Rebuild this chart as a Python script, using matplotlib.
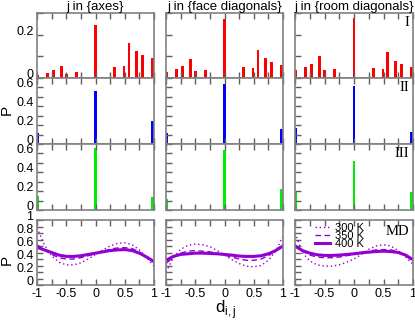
import matplotlib
matplotlib.use("Agg")
import matplotlib.pyplot as plt

plt.rcParams['font.family'] = ['Liberation Sans', 'DejaVu Sans']

# Spalten: j in {...}
columns = ["axes", "face diagonals", "room diagonals"]

# Zeile I (rot) - Positionen und Wahrscheinlichkeiten
d_I = [-0.985, -0.82, -0.72, -0.58, -0.5, -0.33, 0.0, 0.33, 0.49, 0.57, 0.70, 0.80, 0.97]
p_I_axes = [0.015, 0.023, 0.035, 0.057, 0.020, 0.026, 0.243, 0.050, 0.054, 0.160, 0.123, 0.106, 0.092]
p_I_face = [0.028, 0.043, 0.057, 0.089, 0.031, 0.038, 0.274, 0.049, 0.046, 0.131, 0.092, 0.074, 0.058]
p_I_room = [0.035, 0.052, 0.066, 0.103, 0.035, 0.042, 0.277, 0.046, 0.042, 0.118, 0.080, 0.065, 0.049]

# Zeilen II (blau) und III (gruen)
d_edge = [-0.98, 0.0, 0.975]
p_II_axes = [0.12, 0.56, 0.24]
p_II_face = [0.12, 0.64, 0.16]
p_II_room = [0.17, 0.61, 0.13]
p_III_axes = [0.145, 0.66, 0.14]
p_III_face = [0.12, 0.64, 0.22]
p_III_room = [0.19, 0.52, 0.19]

# Zeile MD - Verteilungen bei 300, 350, 400 K
d_md = [-1, -0.875, -0.75, -0.625, -0.5, -0.375, -0.25, -0.125, 0,
        0.125, 0.25, 0.375, 0.5, 0.625, 0.75, 0.875, 1]
md_axes_300 = [0.88, 0.62, 0.45, 0.35, 0.31, 0.31, 0.34, 0.40, 0.47, 0.54, 0.60, 0.64, 0.65, 0.62, 0.54, 0.42, 0.29]
md_axes_350 = [0.62, 0.54, 0.47, 0.42, 0.40, 0.40, 0.42, 0.45, 0.48, 0.52, 0.55, 0.57, 0.575, 0.56, 0.51, 0.43, 0.34]
md_axes_400 = [0.58, 0.54, 0.50, 0.46, 0.44, 0.44, 0.45, 0.47, 0.49, 0.51, 0.53, 0.54, 0.545, 0.53, 0.49, 0.43, 0.36]
md_face_300 = [0.20, 0.42, 0.55, 0.61, 0.63, 0.62, 0.59, 0.53, 0.46, 0.39, 0.33, 0.29, 0.28, 0.30, 0.38, 0.52, 0.75]
md_face_350 = [0.33, 0.43, 0.49, 0.52, 0.53, 0.52, 0.51, 0.49, 0.46, 0.43, 0.40, 0.38, 0.38, 0.40, 0.45, 0.53, 0.63]
md_face_400 = [0.38, 0.44, 0.47, 0.48, 0.49, 0.49, 0.485, 0.48, 0.47, 0.46, 0.445, 0.44, 0.44, 0.45, 0.48, 0.53, 0.60]
md_room_300 = [0.80, 0.50, 0.37, 0.31, 0.29, 0.29, 0.31, 0.35, 0.40, 0.47, 0.55, 0.60, 0.62, 0.60, 0.53, 0.43, 0.32]
md_room_350 = [0.62, 0.52, 0.46, 0.43, 0.42, 0.42, 0.43, 0.45, 0.47, 0.50, 0.52, 0.54, 0.545, 0.54, 0.51, 0.45, 0.37]
md_room_400 = [0.60, 0.53, 0.49, 0.465, 0.455, 0.455, 0.46, 0.47, 0.48, 0.495, 0.505, 0.515, 0.52, 0.515, 0.50, 0.46, 0.39]

rows_I = [p_I_axes, p_I_face, p_I_room]
rows_II = [p_II_axes, p_II_face, p_II_room]
rows_III = [p_III_axes, p_III_face, p_III_room]
rows_md = [(md_axes_300, md_axes_350, md_axes_400),
           (md_face_300, md_face_350, md_face_400),
           (md_room_300, md_room_350, md_room_400)]

W, H = 415, 324
fig = plt.figure(figsize=(W / 100, H / 100), dpi=100)

col_px = [(37, 154), (166, 283), (295, 413)]
row_px = [(13, 78), (78, 144), (144, 210), (220, 285)]

def make_ax(c, r):
    x0, x1 = col_px[c]
    y0, y1 = row_px[r]
    ax = fig.add_axes([x0 / W, 1 - y1 / H, (x1 - x0) / W, (y1 - y0) / H])
    for s in ax.spines.values():
        s.set_color("#808080")
        s.set_linewidth(1.2)
    ax.tick_params(direction="in", top=True, right=False, length=4, width=1,
                   color="#606060", labelsize=9, pad=2.5)
    ax.set_xlim(-1, 1)
    xt = [-1, -0.75, -0.5, -0.25, 0, 0.25, 0.5, 0.75, 1]
    if r == 3:
        ax.set_xticks(xt, ["-1", "", "-0.5", "", "0", "", "0.5", "", "1"])
    else:
        ax.set_xticks(xt, [""] * len(xt))
    return ax

def set_y(ax, ticks, labels, show):
    ax.set_yticks(ticks, labels if show else [""] * len(ticks))
    for lab in ax.get_yticklabels():
        lab.set_verticalalignment("baseline")

serif = ["Liberation Serif", "DejaVu Serif"]

for c in range(3):
    # Zeile I
    ax = make_ax(c, 0)
    ax.bar(d_I, rows_I[c], width=0.045, color="red", linewidth=0)
    ax.set_ylim(0, 0.3)
    set_y(ax, [0, 0.1, 0.2, 0.3], ["0", "", "0.2", ""], c == 0)
    ax.set_title("j in {" + columns[c] + "}", fontsize=9.5, pad=1.5)
    if c == 2:
        ax.text(0.97, 0.95, "I", transform=ax.transAxes, ha="right", va="top",
                fontsize=10.5, family=serif)

    # Zeile II und III
    for r, vals, col, lab in [(1, rows_II[c], "blue", "II"), (2, rows_III[c], "#00ee00", "III")]:
        ax = make_ax(c, r)
        ax.bar(d_edge, vals, width=0.04, color=col, linewidth=0)
        ax.set_ylim(0, 0.7)
        set_y(ax, [0, 0.1, 0.2, 0.3, 0.4, 0.5, 0.6, 0.7],
              ["0", "", "0.2", "", "0.4", "", "0.6", ""], c == 0)
        if c == 2:
            ax.text(0.97, 0.95, lab, transform=ax.transAxes, ha="right", va="top",
                    fontsize=10.5, family=serif)

    # Zeile MD
    ax = make_ax(c, 3)
    t300, t350, t400 = rows_md[c]
    ax.plot(d_md, t300, color="#9400d3", lw=1.0, ls=(0, (1, 2)), label="300 K")
    ax.plot(d_md, t350, color="#9400d3", lw=1.0, ls=(0, (4, 2.5)), label="350 K")
    ax.plot(d_md, t400, color="#9400d3", lw=2.2, label="400 K")
    ax.set_ylim(0, 1)
    set_y(ax, [0, 0.1, 0.2, 0.3, 0.4, 0.5, 0.6, 0.7, 0.8, 0.9, 1],
          ["0", "", "0.2", "", "0.4", "", "0.6", "", "0.8", "", "1"], c == 0)
    if c == 2:
        ax.legend(loc="upper left", bbox_to_anchor=(0.12, 1.04), frameon=False,
                  fontsize=8, labelspacing=-0.2, handlelength=1.4,
                  handletextpad=0.4, borderpad=0)
        ax.text(0.97, 0.93, "MD", transform=ax.transAxes, ha="right", va="top",
                fontsize=10.5, family=serif)

fig.text(7 / W, 1 - 110 / H, "P", rotation=90, fontsize=11, ha="center", va="center")
fig.text(7 / W, 1 - 260 / H, "P", rotation=90, fontsize=11, ha="center", va="center")
fig.text(226 / W, 1 - 310 / H, r"d$_{\mathregular{i,j}}$", fontsize=12, ha="center", va="center")

fig.savefig("out.png", dpi=100)
